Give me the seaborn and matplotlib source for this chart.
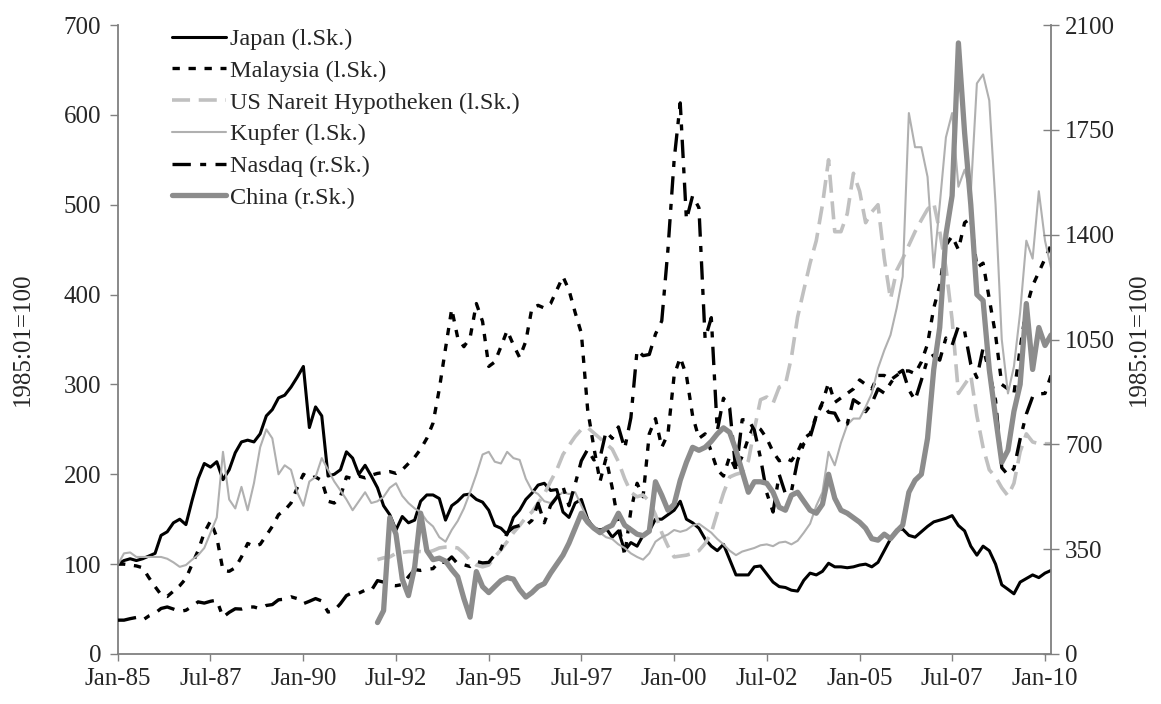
import numpy as np
import pandas as pd
import matplotlib
matplotlib.use('Agg')
import matplotlib.pyplot as plt
import seaborn as sns

sns.set_theme(style='ticks')
plt.rcParams['font.family'] = ['Liberation Serif', 'DejaVu Serif']

# readings every second month (Jan, Mar, May, Jul, Sep, Nov) from Jan-85 to Mar-10
dates = pd.date_range('1985-01-01', '2010-03-01', freq='2MS')

# left axis (1985:01=100)
japan = [
    100, 104, 106, 104, 106, 109,
    112, 132, 136, 146, 150, 144,
    171, 195, 212, 208, 214, 194,
    205, 224, 236, 238, 236, 245,
    265, 272, 285, 288, 297, 308,
    320, 252, 275, 265, 198, 200,
    205, 225, 218, 200, 210, 198,
    185, 165, 155, 138, 153, 146,
    149, 170, 177, 177, 173, 149,
    165, 170, 177, 178, 172, 169,
    160, 143, 140, 133, 152, 160,
    172, 179, 188, 190, 182, 183,
    158, 152, 168, 172, 150, 140,
    138, 140, 130, 137, 115, 124,
    120, 132, 137, 150, 150, 155,
    160, 170, 150, 146, 140, 128,
    120, 115, 122, 105, 88, 88,
    88, 97, 98, 89, 80, 75,
    74, 71, 70, 82, 90, 88,
    92, 101, 97, 97, 96, 97,
    99, 100, 97, 102, 115, 128,
    138, 139, 132, 130, 136, 142,
    147, 149, 151, 154, 143, 137,
    120, 110, 120, 115, 100, 77,
    72, 67, 80, 84, 88, 85,
    90, 93,
]
malaysia = [
    100, 100, 99, 98, 96, 85,
    75, 66, 64, 70, 76, 84,
    100, 115, 135, 148, 130, 93,
    92, 96, 108, 123, 120, 122,
    132, 142, 155, 160, 168, 185,
    200, 196, 197, 193, 170, 168,
    175, 197, 195, 198, 196, 199,
    201, 202, 203, 201, 205, 212,
    219, 228, 240, 257, 295, 340,
    384, 352, 342, 352, 390, 370,
    320, 325, 342, 360, 344, 330,
    348, 385, 388, 385, 390, 405,
    420, 405, 380, 357, 272, 230,
    192, 218, 185, 145, 110, 160,
    190, 175, 245, 262, 230, 245,
    310, 330, 310, 265, 240, 245,
    225, 205, 198, 220, 205, 220,
    240, 255, 250, 240, 225, 215,
    218, 215, 225, 240, 245, 265,
    280, 302, 280, 285, 290, 295,
    305, 300, 295, 310, 310, 305,
    310, 315, 315, 312, 325, 345,
    385, 410, 455, 465, 450, 480,
    485, 430, 435, 395, 355, 300,
    295, 290, 340, 385, 410, 425,
    440, 455,
]
nareit = [np.nan] * 42 + [
    105, 107, 108, 112, 113, 114,
    114, 114, 113, 115, 118, 119,
    119, 118, 112, 104, 99, 97,
    99, 108, 116, 125, 135, 143,
    152, 158, 168, 178, 192, 205,
    222, 232, 242, 250, 252, 246,
    240, 234, 228, 214, 195, 180,
    175, 177, 170, 155, 135, 120,
    108, 109, 110, 112, 115, 123,
    135, 157, 179, 197, 200, 202,
    215, 250, 283, 286, 279, 297,
    300, 330, 375, 405, 435, 460,
    500, 550, 470, 470, 490, 535,
    515, 480, 492, 500, 440, 395,
    427, 440, 455, 470, 483, 495,
    502, 470, 430, 372, 290, 300,
    310, 265, 230, 205, 197, 185,
    176, 190, 225, 245, 236, 234,
    234, 234,
]
kupfer = [
    100, 112, 113, 108, 108, 108,
    108, 108, 106, 102, 97, 99,
    105, 110, 118, 135, 152, 225,
    172, 162, 186, 160, 190, 230,
    250, 240, 200, 210, 205, 180,
    165, 192, 197, 218, 205, 192,
    182, 172, 160, 170, 180, 168,
    170, 175, 185, 190, 176, 168,
    162, 158, 148, 142, 130, 125,
    138, 148, 162, 180, 200, 222,
    225, 214, 212, 225, 218, 216,
    195, 182, 178, 170, 168, 175,
    180, 178, 180, 165, 150, 140,
    135, 130, 128, 122, 118, 112,
    108, 105, 112, 125, 130, 133,
    138, 136, 138, 143, 145, 140,
    135, 128, 122, 115, 110, 114,
    116, 118, 121, 122, 120, 124,
    125, 122, 126, 135, 145, 165,
    180, 225, 210, 235, 255, 262,
    262, 275, 290, 318, 338, 355,
    385, 420, 602, 564, 564, 531,
    430, 500, 575, 602, 520, 539,
    513, 635, 645, 616, 500, 350,
    290, 320, 380, 460, 440, 515,
    460, 430,
]

# right axis (1985:01=100)
nasdaq = [
    113, 113, 118, 122, 113, 127,
    136, 152, 157, 150, 142, 146,
    159, 174, 170, 176, 180, 123,
    139, 151, 150, 157, 157, 151,
    162, 165, 181, 183, 191, 185,
    168, 176, 185, 177, 140, 145,
    168, 195, 205, 203, 213, 212,
    245, 240, 230, 228, 232, 258,
    282, 279, 283, 285, 309, 305,
    324, 301, 298, 292, 309, 304,
    306, 331, 350, 405, 423, 429,
    429, 446, 503, 438, 496, 523,
    559, 495, 567, 645, 683, 648,
    655, 743, 720, 758, 686, 789,
    1015, 996, 1000, 1068, 1112, 1351,
    1650, 1840, 1450, 1530, 1490, 1052,
    1123, 745, 854, 821, 607, 782,
    783, 747, 654, 538, 474, 599,
    535, 543, 646, 702, 723, 794,
    836, 807, 804, 764, 768, 849,
    835, 809, 837, 885, 871, 904,
    934, 947, 882, 847, 914, 985,
    998, 981, 1055, 1031, 1094, 1077,
    967, 923, 1021, 942, 847, 622,
    598, 619, 718, 801, 859, 868,
    870, 930,
]
china = [np.nan] * 42 + [
    105, 145, 455, 400, 250, 195,
    290, 470, 345, 315, 320, 310,
    282, 258, 185, 123, 275, 225,
    205, 225, 245, 255, 250, 215,
    190, 205, 225, 235, 270, 300,
    330, 370, 420, 470, 440, 420,
    405, 420, 430, 470, 430, 415,
    400, 395, 410, 575, 530, 480,
    500, 580, 640, 690, 680, 690,
    710, 735, 755, 740, 680, 610,
    540, 575, 575, 570, 540, 490,
    480, 530, 540, 510, 480, 470,
    500, 600, 520, 480, 470, 455,
    440, 420, 385, 380, 400, 385,
    410, 430, 540, 580, 600, 720,
    950, 1090, 1400, 1530, 2040, 1740,
    1500, 1200, 1180, 950, 790, 640,
    680, 810, 900, 1170, 950, 1090,
    1030, 1065,
]

df = pd.DataFrame({'date': dates, 'Japan': japan, 'Malaysia': malaysia,
                   'Nareit': nareit, 'Kupfer': kupfer,
                   'Nasdaq': nasdaq, 'China': china})

fig = plt.figure(figsize=(11.61, 7.04), dpi=100)
ax = fig.add_axes([118 / 1161, 1 - 654 / 704, 933 / 1161, 629 / 704])
ax2 = ax.twinx()

sns.lineplot(data=df, x='date', y='Japan', ax=ax, color='black', lw=2.2,
             estimator=None, label='Japan (l.Sk.)', legend=False)
sns.lineplot(data=df, x='date', y='Malaysia', ax=ax, color='black', lw=2.4,
             linestyle=(0, (2.2, 2.6)), estimator=None,
             label='Malaysia (l.Sk.)', legend=False)
sns.lineplot(data=df, x='date', y='Nareit', ax=ax, color='#c0c0c0', lw=2.6,
             linestyle=(0, (5, 2.4)), estimator=None,
             label='US Nareit Hypotheken (l.Sk.)', legend=False)
sns.lineplot(data=df, x='date', y='Kupfer', ax=ax, color='#b0b0b0', lw=1.5,
             estimator=None, label='Kupfer (l.Sk.)', legend=False)
sns.lineplot(data=df, x='date', y='Nasdaq', ax=ax2, color='black', lw=2.4,
             linestyle=(0, (5.5, 2.8, 1.8, 2.8)), estimator=None,
             label='Nasdaq (r.Sk.)', legend=False)
sns.lineplot(data=df, x='date', y='China', ax=ax2, color='#8c8c8c', lw=3.8,
             estimator=None, label='China (r.Sk.)', legend=False)

ticks = pd.date_range('1985-01-01', '2010-01-01', freq='30MS')
for a in (ax, ax2):
    a.set_xlim(pd.Timestamp('1985-01-01'), pd.Timestamp('2010-03-01'))
ax.set_xticks(ticks)
ax.set_xticklabels([d.strftime('%b-%y') for d in ticks])
ax.set_ylim(0, 700)
ax.set_yticks(range(0, 701, 100))
ax2.set_ylim(0, 2100)
ax2.set_yticks(range(0, 2101, 350))

ax.set_xlabel('')
ax.set_ylabel('1985:01=100', fontsize=18)
ax2.set_ylabel('1985:01=100', fontsize=18)
ax.yaxis.set_label_coords(-0.09, 0.5)
ax2.yaxis.set_label_coords(1.0825, 0.5)

spine_col = '#808080'
for s in ('top', 'right'):
    ax.spines[s].set_visible(False)
for s in ('top', 'left', 'bottom'):
    ax2.spines[s].set_visible(False)
for s in ('left', 'bottom'):
    ax.spines[s].set_color(spine_col)
    ax.spines[s].set_linewidth(1.3)
ax2.spines['right'].set_color(spine_col)
ax2.spines['right'].set_linewidth(1.3)

ax.tick_params(axis='y', direction='out', length=6, width=1, color=spine_col,
               labelsize=18, pad=6)
ax.tick_params(axis='x', direction='out', length=5, width=1, color=spine_col,
               labelsize=18, pad=5)
ax2.tick_params(axis='y', direction='inout', length=12, width=1, color=spine_col,
                labelsize=18, pad=4)

handles = ax.get_lines()[:4] + ax2.get_lines()[:2]
labels = [h.get_label() for h in handles]
ax2.legend(handles, labels, loc='upper left', bbox_to_anchor=(0.058, 0.995),
           frameon=False, fontsize=17.5, handlelength=2.2, handletextpad=0.2,
           labelspacing=0.4, borderpad=0, borderaxespad=0)

fig.savefig('out.png', dpi=100)
